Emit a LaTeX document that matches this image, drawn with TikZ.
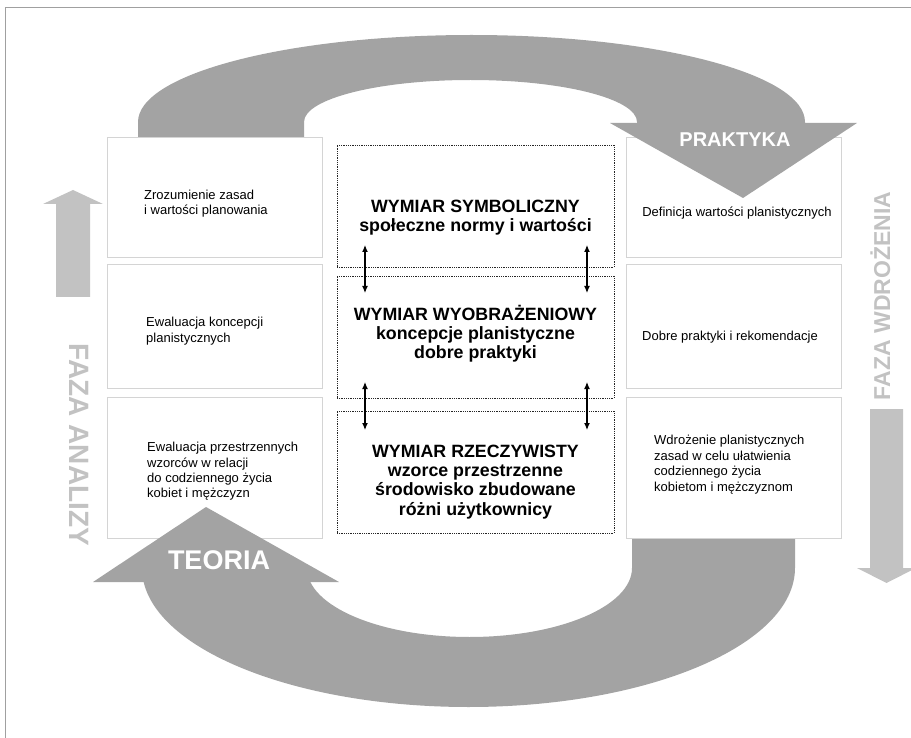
\documentclass[tikz,border=0pt]{standalone}
\usepackage{fontspec}
\setmainfont{Liberation Sans}
\usetikzlibrary{arrows.meta}
\definecolor{arcgray}{HTML}{A3A3A3}
\definecolor{sidegray}{HTML}{C2C2C2}
\definecolor{boxgray}{HTML}{D4D4D4}
\definecolor{framegray}{HTML}{A0A0A0}
\newcommand\mystrut[1]{\rule{0pt}{#1}}
\begin{document}
\begin{tikzpicture}[x=1pt,y=-1pt,
  sidebox/.style={draw=boxgray, line width=1pt, minimum width=215pt, inner sep=0pt},
  midbox/.style={draw=black!85, line width=0.9pt, dash pattern=on 0.9pt off 0.9pt, minimum width=277pt, minimum height=122pt, inner sep=0pt},
  midtext/.style={font=\fontsize{17.8}{19.3}\selectfont\bfseries, align=center, inner sep=0pt, anchor=north},
  sidetxt/.style={font=\fontsize{13}{15.8}\selectfont, inner sep=0pt},
  dimarrow/.style={{Latex[length=7pt,width=6pt]}-{Latex[length=7pt,width=6pt]}, line width=1.2pt, black},
  bigword/.style={font=\bfseries, text=white, inner sep=0pt, anchor=base},
  phase/.style={font=\bfseries, text=sidegray, inner sep=0pt, text height=0.72em, text depth=0pt}
]
\useasboundingbox (0,0) rectangle (911,738);
% frame
\coordinate (ftr) at (911,7.5);
\coordinate (ftl) at (5,7.5);
\coordinate (fbl) at (5,738);
\draw[framegray, line width=1pt] (ftr) -- (ftl) -- (fbl);

% top band
\fill[arcgray] (138,138) -- (138,122) .. controls (138,73.95) and (287.3,35) .. (471.5,35)
  .. controls (655.7,35) and (805,73.95) .. (805,122) -- (805,124) -- (637,124) -- (637,122)
  .. controls (637,98.8) and (562.5,80) .. (470.5,80)
  .. controls (378.5,80) and (304,98.8) .. (304,122) -- (304,138) -- cycle;

% bottom band
\fill[arcgray] (795,539) -- (795,568) .. controls (795,644.8) and (648.8,707) .. (468.5,707)
  .. controls (288.2,707) and (142,644.8) .. (142,568) -- (307,568)
  .. controls (307,606.1) and (379.75,637) .. (469.5,637)
  .. controls (559.25,637) and (632,606.1) .. (632,568) -- (632,539) -- cycle;

% side boxes
\node[sidebox, minimum height=120pt] (L1) at (214.5,198) {};
\node[sidebox, minimum height=123pt] (L2) at (214.5,326.5) {};
\node[sidebox, minimum height=141pt] (L3) at (214.5,467.5) {};
\node[sidebox, minimum height=120pt] (R1) at (733.5,198) {};
\node[sidebox, minimum height=123pt] (R2) at (733.5,326.5) {};
\node[sidebox, minimum height=141pt] (R3) at (733.5,467.5) {};

% middle boxes
\node[midbox] (M1) at (475.5,206) {};
\node[midbox] (M2) at (475.5,337) {};
\node[midbox] (M3) at (475.5,472) {};

% arrow heads of the cycle
\fill[arcgray] (610,123) -- (857,123) -- (743,198) -- cycle;
\fill[arcgray] (93,582) -- (339,582) -- (206,507) -- cycle;
\node[bigword, font=\fontsize{20}{22}\selectfont\bfseries] (prak) at (735,147) {PRAKTYKA};
\node[bigword, font=\fontsize{27}{29}\selectfont\bfseries] (teor) at (219,569.5) {TEORIA};

% phase arrows
\fill[sidegray] (56,297) -- (56,204) -- (43,204) -- (73,190) -- (103,204) -- (90,204) -- (90,297) -- cycle;
\fill[sidegray] (870,409) -- (903,409) -- (903,568) -- (916,568) -- (886.5,583) -- (857,568) -- (870,568) -- cycle;
\node[phase, font=\fontsize{28}{30}\selectfont\bfseries, rotate=-90] (fa) at (73,445) {FAZA ANALIZY};
\node[phase, font=\fontsize{23}{25}\selectfont\bfseries, rotate=90] (fw) at (886.5,296) {FAZA WDROŻENIA};

% middle texts
\node[midtext] (t1) at (475.5,195) {\mystrut{17pt}WYMIAR SYMBOLICZNY\\społeczne normy i wartości};
\node[midtext] (t2) at (475.5,303) {\mystrut{17pt}WYMIAR WYOBRAŻENIOWY\\koncepcje planistyczne\\dobre praktyki};
\node[midtext] (t3) at (475.5,440) {\mystrut{17pt}WYMIAR RZECZYWISTY\\wzorce przestrzenne\\środowisko zbudowane\\różni użytkownicy};

% side texts
\node[sidetxt, align=left, anchor=north west] (l1t) at (144,186) {\mystrut{13pt}Zrozumienie zasad\\i wartości planowania};
\node[sidetxt, align=left, anchor=north west] (l2t) at (146,313) {\mystrut{13pt}Ewaluacja koncepcji\\planistycznych};
\node[sidetxt, align=left, anchor=north west, font=\fontsize{13}{15.4}\selectfont] (l3t) at (147,438.5) {\mystrut{13pt}Ewaluacja przestrzennych\\wzorców w relacji\\do codziennego życia\\kobiet i mężczyzn};
\node[sidetxt, anchor=north] (r1t) at (737,203) {\mystrut{13pt}Definicja wartości planistycznych};
\node[sidetxt, anchor=north] (r2t) at (730,327) {\mystrut{13pt}Dobre praktyki i rekomendacje};
\node[sidetxt, align=left, anchor=north west] (r3t) at (654,431) {\mystrut{13pt}Wdrożenie planistycznych\\zasad w celu ułatwienia\\codziennego życia\\kobietom i mężczyznom};

% double arrows between the dimensions
\coordinate (a1s) at (365,245); \coordinate (a1e) at (365,293);
\coordinate (b1s) at (587,245); \coordinate (b1e) at (587,293);
\coordinate (a2s) at (365,382); \coordinate (a2e) at (365,430);
\coordinate (b2s) at (587,382); \coordinate (b2e) at (587,430);
\draw[dimarrow] (a1s) -- (a1e);
\draw[dimarrow] (b1s) -- (b1e);
\draw[dimarrow] (a2s) -- (a2e);
\draw[dimarrow] (b2s) -- (b2e);
\end{tikzpicture}
\end{document}
